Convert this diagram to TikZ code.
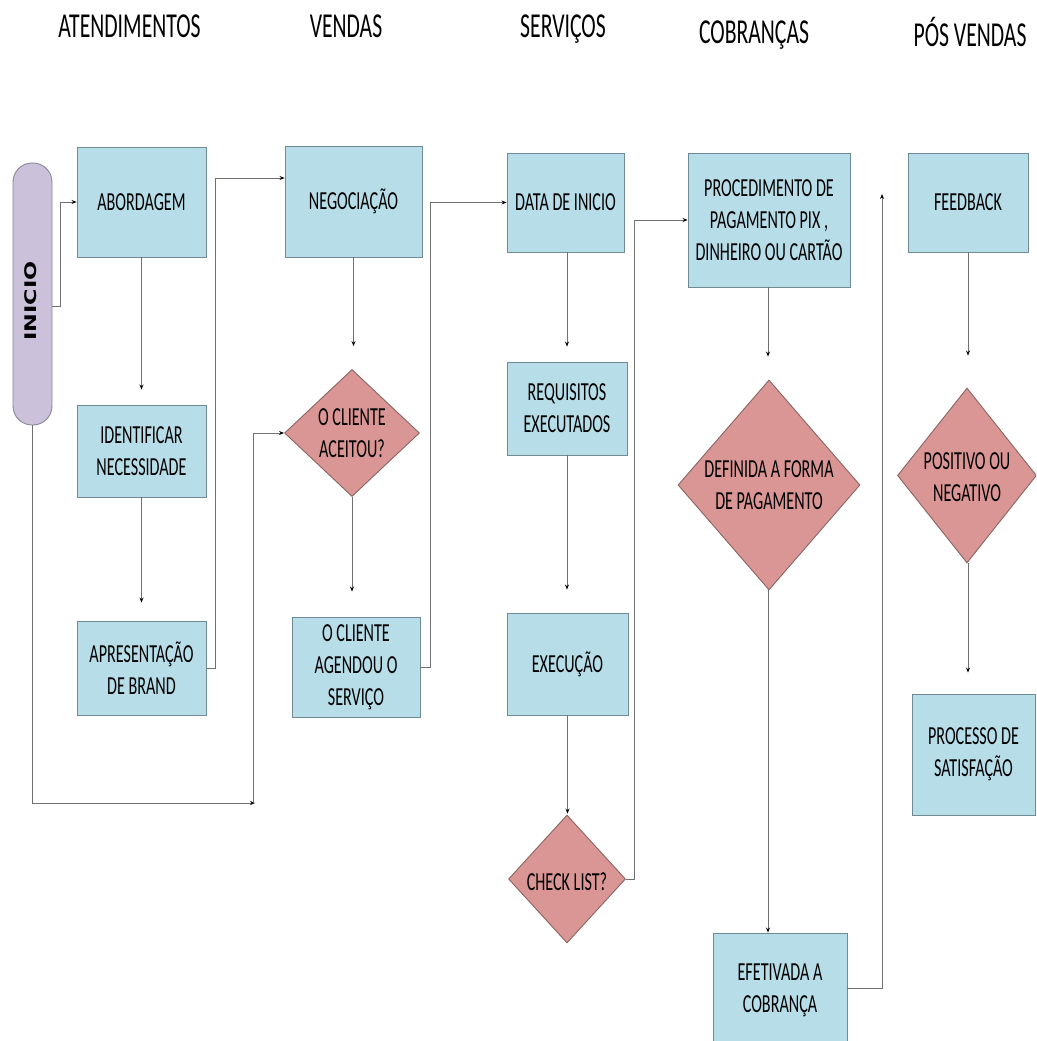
\documentclass[tikz,border=0pt]{standalone}
\usepackage{fontspec}
\setmainfont{Carlito}[FakeStretch=0.62]
\newfontfamily\inifont{DejaVu Sans}
\usetikzlibrary{shapes.geometric,arrows.meta,calc}
\definecolor{boxfill}{HTML}{B7DDE8}
\definecolor{boxline}{HTML}{6F8C94}
\definecolor{diafill}{HTML}{D99694}
\definecolor{dialine}{HTML}{8A6462}
\definecolor{inifill}{HTML}{CCC1DA}
\definecolor{iniline}{HTML}{8C8596}
\definecolor{conn}{HTML}{707070}
\tikzset{
  procbox/.style={draw=boxline, fill=boxfill, line width=0.9pt, align=center, inner sep=0pt,
    font=\fontsize{26}{32}\selectfont},
  decbox/.style={diamond, draw=dialine, fill=diafill, line width=0.9pt, inner sep=0pt, aspect=1},
  dectext/.style={align=center, font=\fontsize{26}{32}\selectfont},
  header/.style={anchor=base, font=\fontsize{35}{40}\selectfont},
  startbox/.style={draw=iniline, fill=inifill, line width=0.9pt, rounded corners=19pt, inner sep=0pt},
  flow/.style={draw=conn, line width=0.8pt, -{Stealth[length=5pt,width=4pt,black]}},
}
\begin{document}
\begin{tikzpicture}[x=1pt,y=-1pt]
\useasboundingbox (0,0) rectangle (1036,1041);
\clip (0,0) rectangle (1036,1041);

% headers
\node[header] (h1) at (129.5,38) {ATENDIMENTOS};
\node[header] (h2) at (346,38) {VENDAS};
\node[header] (h3) at (563,38) {SERVIÇOS};
\node[header] (h4) at (754,44) {COBRANÇAS};
\node[header] (h5) at (970,47) {PÓS VENDAS};

% start
\node[startbox, minimum width=39pt, minimum height=262pt] (inicio) at (32.5,294) {};
\node[rotate=90, font=\inifont\bfseries\fontsize{16}{16}\selectfont] (initxt) at (31,301) {\scalebox{1.4}[1]{INICIO}};

% column 1
\node[procbox, minimum width=129pt, minimum height=110pt] (abord) at (141.5,202) {ABORDAGEM};
\node[procbox, minimum width=129pt, minimum height=92pt] (ident) at (141.5,451) {IDENTIFICAR\\NECESSIDADE};
\node[procbox, minimum width=129pt, minimum height=94pt] (apres) at (141.5,668) {APRESENTAÇÃO\\DE BRAND};

% column 2
\node[procbox, minimum width=137pt, minimum height=111pt] (nego) at (353.5,201.5) {NEGOCIAÇÃO};
\node[decbox, minimum width=135pt, minimum height=127pt] (aceitou) at (352,433) {};
\node[dectext] (aceitoutxt) at (352,433) {O CLIENTE\\ACEITOU?};
\node[procbox, minimum width=128pt, minimum height=100pt] (agendou) at (356,667) {O CLIENTE\\AGENDOU O\\SERVIÇO};

% column 3
\node[procbox, minimum width=117pt, minimum height=99pt] (data) at (565.5,202.5) {DATA DE INICIO};
\node[procbox, minimum width=120pt, minimum height=93pt] (req) at (567,408.5) {REQUISITOS\\EXECUTADOS};
\node[procbox, minimum width=121pt, minimum height=102pt] (exec) at (567.5,664) {EXECUÇÃO};
\node[decbox, minimum width=117pt, minimum height=128pt] (check) at (567,879) {};
\node[dectext] (checktxt) at (567,882) {CHECK LIST?};

% column 4
\node[procbox, minimum width=162pt, minimum height=134pt] (proc) at (769,220) {PROCEDIMENTO DE\\PAGAMENTO PIX ,\\DINHEIRO OU CARTÃO};
\node[decbox, minimum width=182pt, minimum height=210pt] (def) at (769,485) {};
\node[dectext] (deftxt) at (769,485) {DEFINIDA A FORMA\\DE PAGAMENTO};
\node[procbox, minimum width=134pt, minimum height=114pt] (efet) at (780,990) {EFETIVADA A\\COBRANÇA};

% column 5
\node[procbox, minimum width=120pt, minimum height=99pt] (feed) at (968,202.5) {FEEDBACK};
\node[decbox, minimum width=139pt, minimum height=175pt] (pos) at (967,475.5) {};
\node[dectext] (postxt) at (967,477) {POSITIVO OU\\NEGATIVO};
\node[procbox, minimum width=123pt, minimum height=121pt] (satis) at (973.5,754.5) {PROCESSO DE\\SATISFAÇÃO};

% free connector ends
\coordinate (c1) at (255,803);
\coordinate (c2) at (882,194);

% connectors
\draw[flow] ($(inicio.east)+(0,12)$) -- ++(8,0) |- (abord.west);
\draw[flow] (inicio.south) |- (c1);
\draw[flow] ([xshift=-2pt]c1) |- (aceitou.west);
\draw[flow, shorten >=15pt] (abord.south) -- (ident.north);
\draw[flow, shorten >=18pt] (ident.south) -- (apres.north);
\draw[flow] (apres.east) -- ++(9,0) |- ([yshift=23.5pt]nego.west);
\draw[flow, shorten >=23pt] (nego.south) -- (nego.south |- aceitou.north);
\draw[flow, shorten >=25pt] (aceitou.south) -- (aceitou.south |- agendou.north);
\draw[flow] (agendou.east) -- ++(10,0) |- (data.west);
\draw[flow, shorten >=15pt] ([xshift=1.5pt]data.south) -- ([xshift=1.5pt]data.south |- req.north);
\draw[flow, shorten >=23pt] (req.south) -- (req.south |- exec.north);
\draw[flow, shorten >=1pt] (exec.south) -- (exec.south |- check.north);
\draw[flow] (check.east) -- ++(8,0) |- (proc.west);
\draw[flow, shorten >=23pt] ([xshift=-1pt]proc.south) -- ([xshift=-1pt]proc.south |- def.north);
\draw[flow] ([xshift=-1pt]def.south) -- ([xshift=-1pt]def.south |- efet.north);
\draw[flow] ([yshift=2pt]efet.east) -| (c2);
\draw[flow, shorten >=32pt] (feed.south) -- (feed.south |- pos.north);
\draw[flow, shorten >=21pt] ([xshift=1pt]pos.south) -- ([xshift=1pt]pos.south |- satis.north);
\end{tikzpicture}
\end{document}
